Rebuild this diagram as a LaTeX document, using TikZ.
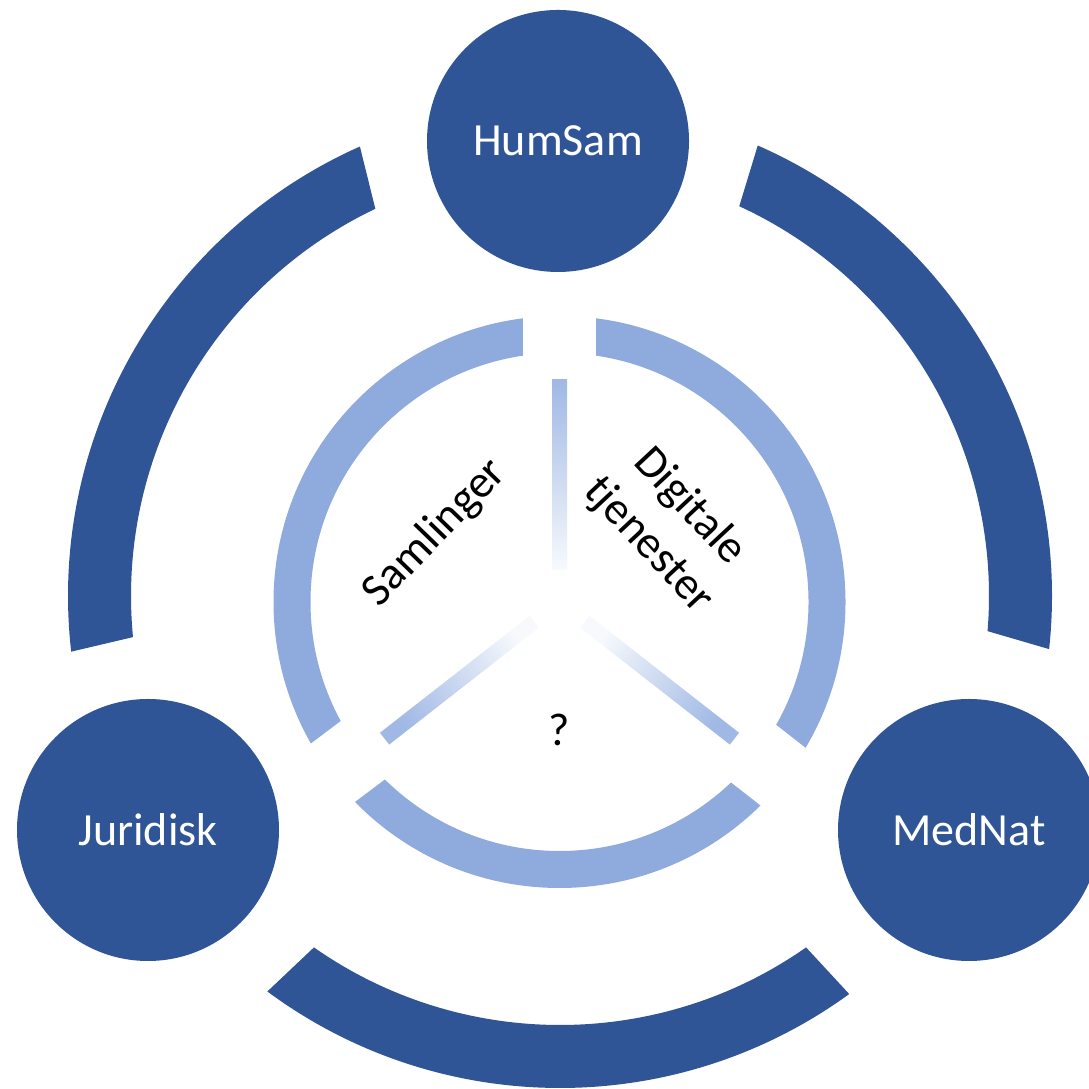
\documentclass[tikz,border=0pt]{standalone}
\usepackage{fontspec}
\setmainfont{Carlito}
\usepackage{tikz}
\usetikzlibrary{positioning}
\definecolor{dfdarkblue}{RGB}{47,85,151}
\definecolor{dfringblue}{RGB}{143,170,220}
\definecolor{dfspokeblue}{RGB}{160,184,228}
\tikzstyle{faculty} = [circle, minimum size=2.62cm, inner sep=0pt, fill=dfdarkblue, text=white, font=\fontsize{13.1}{16}\selectfont]
\tikzstyle{spoke} = [rectangle, minimum width=1.9cm, minimum height=0.15cm, inner sep=0pt, top color=dfspokeblue, bottom color=dfspokeblue!8]
\tikzstyle{sector} = [inner sep=0pt, align=center, font=\fontsize{13.1}{16}\selectfont]

\begin{document}
\begin{tikzpicture}
\useasboundingbox (0,0) rectangle (10.89,10.89);
% Centres
\coordinate (ringc) at (5.60,4.93);
\coordinate (mid) at (5.595,4.87);

% Outer ring in three pieces
\foreach \s in {114,233.5,353.8}
  \fill[dfdarkblue, shift={(ringc)}] (\s:4.92) arc[start angle=\s, delta angle=72.5, radius=4.92]
    -- (\s+71.5:4.29) arc[start angle=\s+71.5, end angle=\s+1.5, radius=4.29] -- cycle;

% Faculties
\node[faculty] (hum) at (5.58,9.48) {HumSam};
\node[faculty] (jur) at (1.48,2.59) {Juridisk};
\node[faculty] (med) at (9.69,2.59) {MedNat};

% Inner ring with three openings
\draw[dfringblue, line width=0.37cm] (mid) circle (2.675);
\foreach \a in {90,217,322}
  \draw[white, line width=0.73cm] (mid) -- ++(\a:3.15);

% Spokes
\node[spoke, rotate=90, shading angle=0] (sp1) at ([shift={(90:1.27)}]mid) {};
\node[spoke, rotate=218, shading angle=128] (sp2) at ([shift={(218:1.27)}]mid) {};
\node[spoke, rotate=322, shading angle=232] (sp3) at ([shift={(322:1.27)}]mid) {};

% Sector texts
\node[sector, rotate=46] (saml) at (4.35,5.56) {Samlinger};
\node[sector, rotate=-47] (digi) at (6.69,5.63) {Digitale\\tjenester};
\node[sector] (unkn) at (5.59,3.59) {?};
\end{tikzpicture}
\end{document}
